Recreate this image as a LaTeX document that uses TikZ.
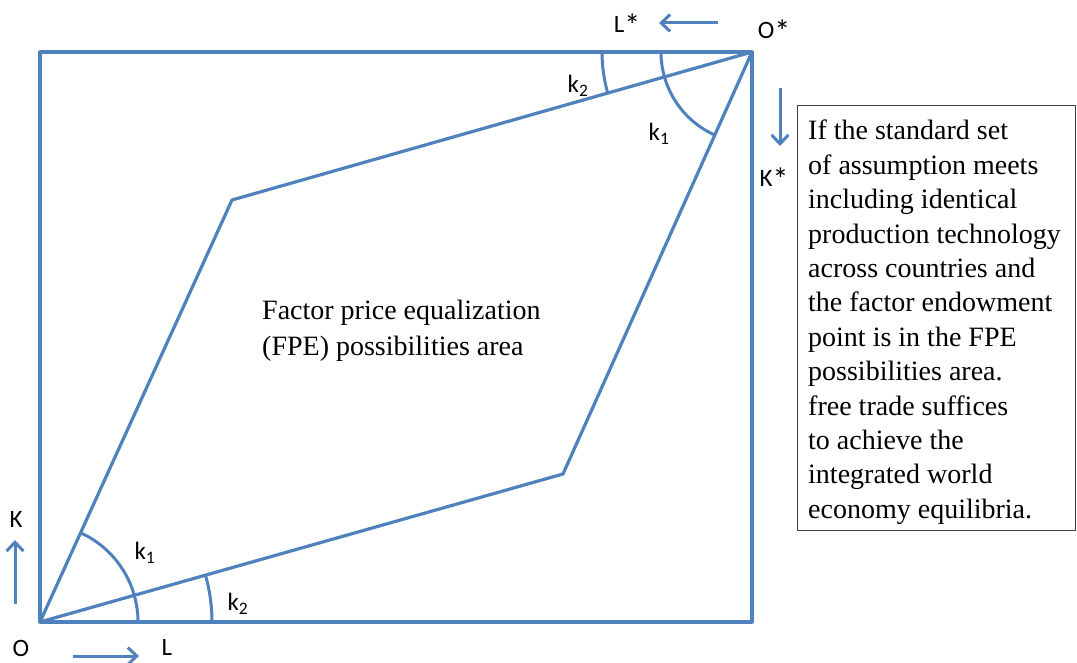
\documentclass[tikz,border=0pt]{standalone}
\usepackage{fontspec}
\setmainfont{Liberation Serif}
\newfontfamily\lblfont{Carlito}
\usetikzlibrary{arrows.meta}
\definecolor{lineblue}{RGB}{79,129,189}
\newcommand{\bigstar}{\raisebox{-4pt}{\fontsize{32}{32}\selectfont *}}
\tikzset{
  edge/.style={draw=lineblue, line width=3.2pt, line join=round},
  anglearc/.style={draw=lineblue, line width=3pt},
  axisarrow/.style={draw=lineblue, line width=3pt, -{Straight Barb[length=9pt,width=17pt,line width=3pt]}},
  lbl/.style={font=\lblfont\fontsize{25}{28}\selectfont, inner sep=0pt},
  notetext/.style={font=\fontsize{28}{34.4}\selectfont},
  centertext/.style={font=\fontsize{28}{36}\selectfont},
}
\begin{document}
\begin{tikzpicture}[x=1pt,y=-1pt]
\useasboundingbox (0,0) rectangle (1077,663);
% corners
\coordinate (O) at (40,622);
\coordinate (TL) at (40,52);
\coordinate (Os) at (752,52);
\coordinate (BR) at (752,622);
\coordinate (A) at (232,200);
\coordinate (B) at (563,474);
% box
\draw[edge] (O) -- (TL) -- (Os) -- (BR) -- cycle;
% parallelogram
\draw[edge] (O) -- (A) -- (Os) -- (B) -- cycle;
% angle arcs at O
\draw[anglearc] ([shift={(0:98pt)}]O) arc[start angle=0, end angle=65.5, radius=98pt];
\draw[anglearc] ([shift={(0:172pt)}]O) arc[start angle=0, end angle=15.8, radius=172pt];
% angle arcs at O*
\draw[anglearc] ([shift={(180:91pt)}]Os) arc[start angle=180, end angle=245.8, radius=91pt];
\draw[anglearc] ([shift={(180:150pt)}]Os) arc[start angle=180, end angle=195.7, radius=150pt];
% angle labels
\node[lbl] (k1a) at (145,553) {k\textsubscript{1}};
\node[lbl] (k2a) at (238,604) {k\textsubscript{2}};
\node[lbl] (k2b) at (578,86) {k\textsubscript{2}};
\node[lbl] (k1b) at (659,134) {k\textsubscript{1}};
% axis labels
\node[lbl] (Olbl) at (21,648) {O};
\node[lbl] (Llbl) at (167,647) {L};
\node[lbl] (Klbl) at (16,519) {K};
\node[lbl] (Oslbl) at (774,31) {O\bigstar};
\node[lbl] (Lslbl) at (627,25) {L\bigstar};
\node[lbl] (Kslbl) at (774,179) {K\bigstar};
% axis arrows
\coordinate (Ks) at (15,604);
\coordinate (Ke) at (15,540);
\coordinate (Ls) at (73,656);
\coordinate (Le) at (139,656);
\coordinate (LSs) at (718,23);
\coordinate (LSe) at (659,23);
\coordinate (KSs) at (780,88);
\coordinate (KSe) at (780,146);
\draw[axisarrow] (Ks) -- (Ke);
\draw[axisarrow] (Ls) -- (Le);
\draw[axisarrow] (LSs) -- (LSe);
\draw[axisarrow] (KSs) -- (KSe);
% central text
\node[centertext, align=left, inner sep=0pt, anchor=west] (fpe) at (262,331)
  {Factor price equalization\\(FPE) possibilities area};
% note box
\node[draw=black!75, line width=1pt, anchor=north west, minimum width=278pt,
      minimum height=425pt, inner sep=0pt] (note) at (797,105) {};
\node[notetext, anchor=north west, align=left, inner sep=0pt] (notetxt) at (808,120)
  {If the standard set\\
   of assumption meets\\
   including identical\\
   production technology\\
   across countries and\\
   the factor endowment\\
   point is in the FPE\\
   possibilities area.\\
   free trade suffices\\
   to achieve the\\
   integrated world\\
   economy equilibria.};
\end{tikzpicture}
\end{document}
